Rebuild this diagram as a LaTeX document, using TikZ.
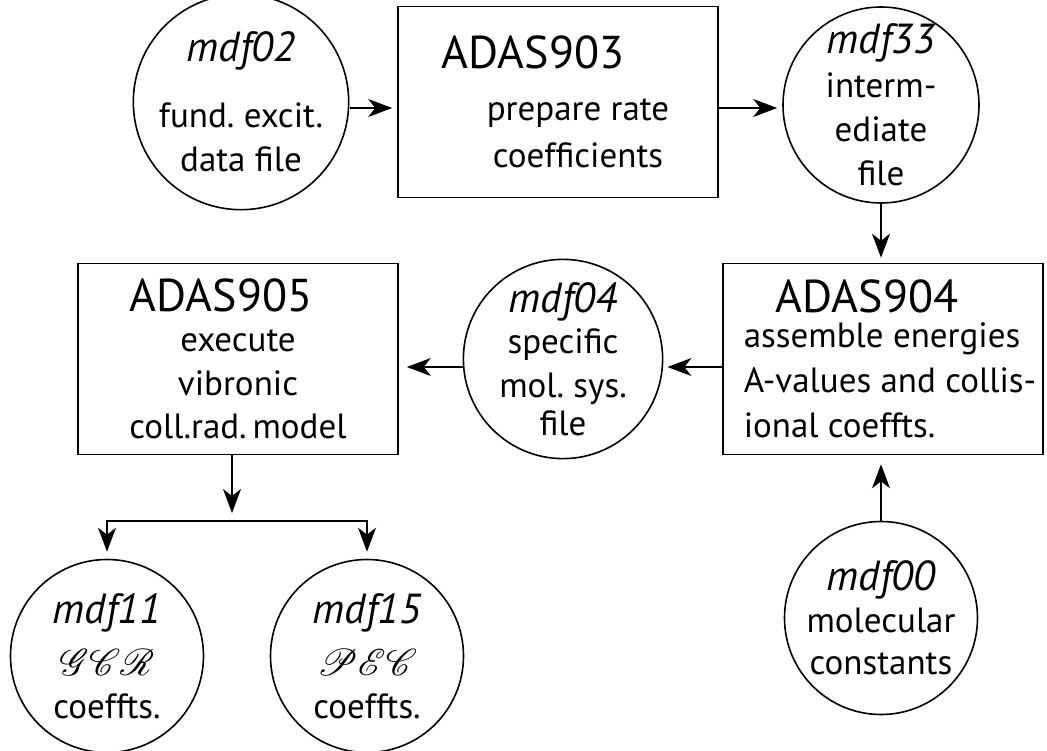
\documentclass[tikz,border=0pt]{standalone}
\usepackage{fontspec}
\setmainfont{PT Sans}
\usepackage{mathrsfs}
\usetikzlibrary{arrows.meta}

\newcommand{\progname}[1]{{\fontsize{46}{44}\selectfont #1}}
\newcommand{\filename}[1]{{\fontsize{42}{44}\selectfont\itshape #1}}
\newcommand{\coeffname}[1]{\scalebox{1.5}{$\mathscr{#1}$}}

\begin{document}
\begin{tikzpicture}[x=1pt,y=-1pt]
            \tikzset{datafile/.style = {draw, circle, line width=1.6pt, minimum size=193pt, inner sep=0pt,
                                        align=center, font=\fontsize{35}{44}\selectfont}}
            \tikzset{program/.style = {draw, rectangle, line width=1.6pt, minimum width=320pt, minimum height=191pt,
                                       inner sep=0pt, font=\fontsize{35}{44}\selectfont}}
            \tikzset{flow/.style = {line width=1.6pt, -{Stealth[length=24pt,width=18pt,inset=7pt]}, shorten >=5pt}}

            \useasboundingbox (0,0) rectangle (1047,751);

            % programs
            \node[program, align=center] (adas903) at (558,102) {\progname{ADAS903}\kern50pt\\[8pt] \hspace*{40pt}prepare rate\\[3pt] \hspace*{40pt}coefficients};
            \node[program, align=left] (adas904) at (883,359) {\hspace*{46pt}\progname{ADAS904}\\[-9pt] \hspace*{14pt}assemble energies\\[1pt] \hspace*{14pt}A-values and collis-\\[1pt] \hspace*{14pt}ional coeffts.};
            \node[program, align=center] (adas905) at (238,359) {\progname{ADAS905}\kern34pt\\[-4pt] execute\\ vibronic\\[-1pt] coll.rad.\,model};

            % files
            \node[datafile] (mdf02) at (241,102) {\filename{mdf02}\\[22pt] fund.\ excit.\\ data file};
            \node[datafile] (mdf33) at (881,105) {\filename{mdf33}\\ interm-\\ ediate\\ file};
            \node[datafile] (mdf04) at (563,359) {\filename{mdf04}\\[-3pt] specific\\ mol.\ sys.\\[-6pt] file};
            \node[datafile] (mdf00) at (881,618) {\filename{mdf00}\\[-2pt] molecular\\[-2pt] constants};
            \node[datafile] (mdf11) at (107,656) {\filename{mdf11}\\[8pt] \coeffname{GCR}\\[-1pt] coeffts.};
            \node[datafile] (mdf15) at (367,656) {\filename{mdf15}\\[8pt] \coeffname{PEC}\\[-1pt] coeffts.};

            \coordinate (split) at (232,521);

            % arrows
            \draw[flow] ([yshift=-6pt]mdf02.east) -- ([yshift=-6pt]adas903.west);
            \draw[flow] ([yshift=-6pt]adas903.east) -- ([yshift=-3pt]mdf33.west);
            \draw[flow] (mdf33.south) -- (mdf33.south |- adas904.north);
            \draw[flow, shorten >=4pt] ([yshift=-8pt]adas904.west) -- ([yshift=-8pt]mdf04.east);
            \draw[flow, shorten >=8pt] ([yshift=-8pt]mdf04.west) -- ([yshift=-8pt]adas905.east);
            \draw[flow, shorten >=9pt] (mdf00.north) -- (mdf00.north |- adas904.south);
            \draw[flow, shorten >=8pt] (split |- adas905.south) -- (split);
            \foreach \f in {mdf11,mdf15} {\draw[flow, shorten >=7pt] (split) -| (\f.north);}

\end{tikzpicture}
\end{document}
